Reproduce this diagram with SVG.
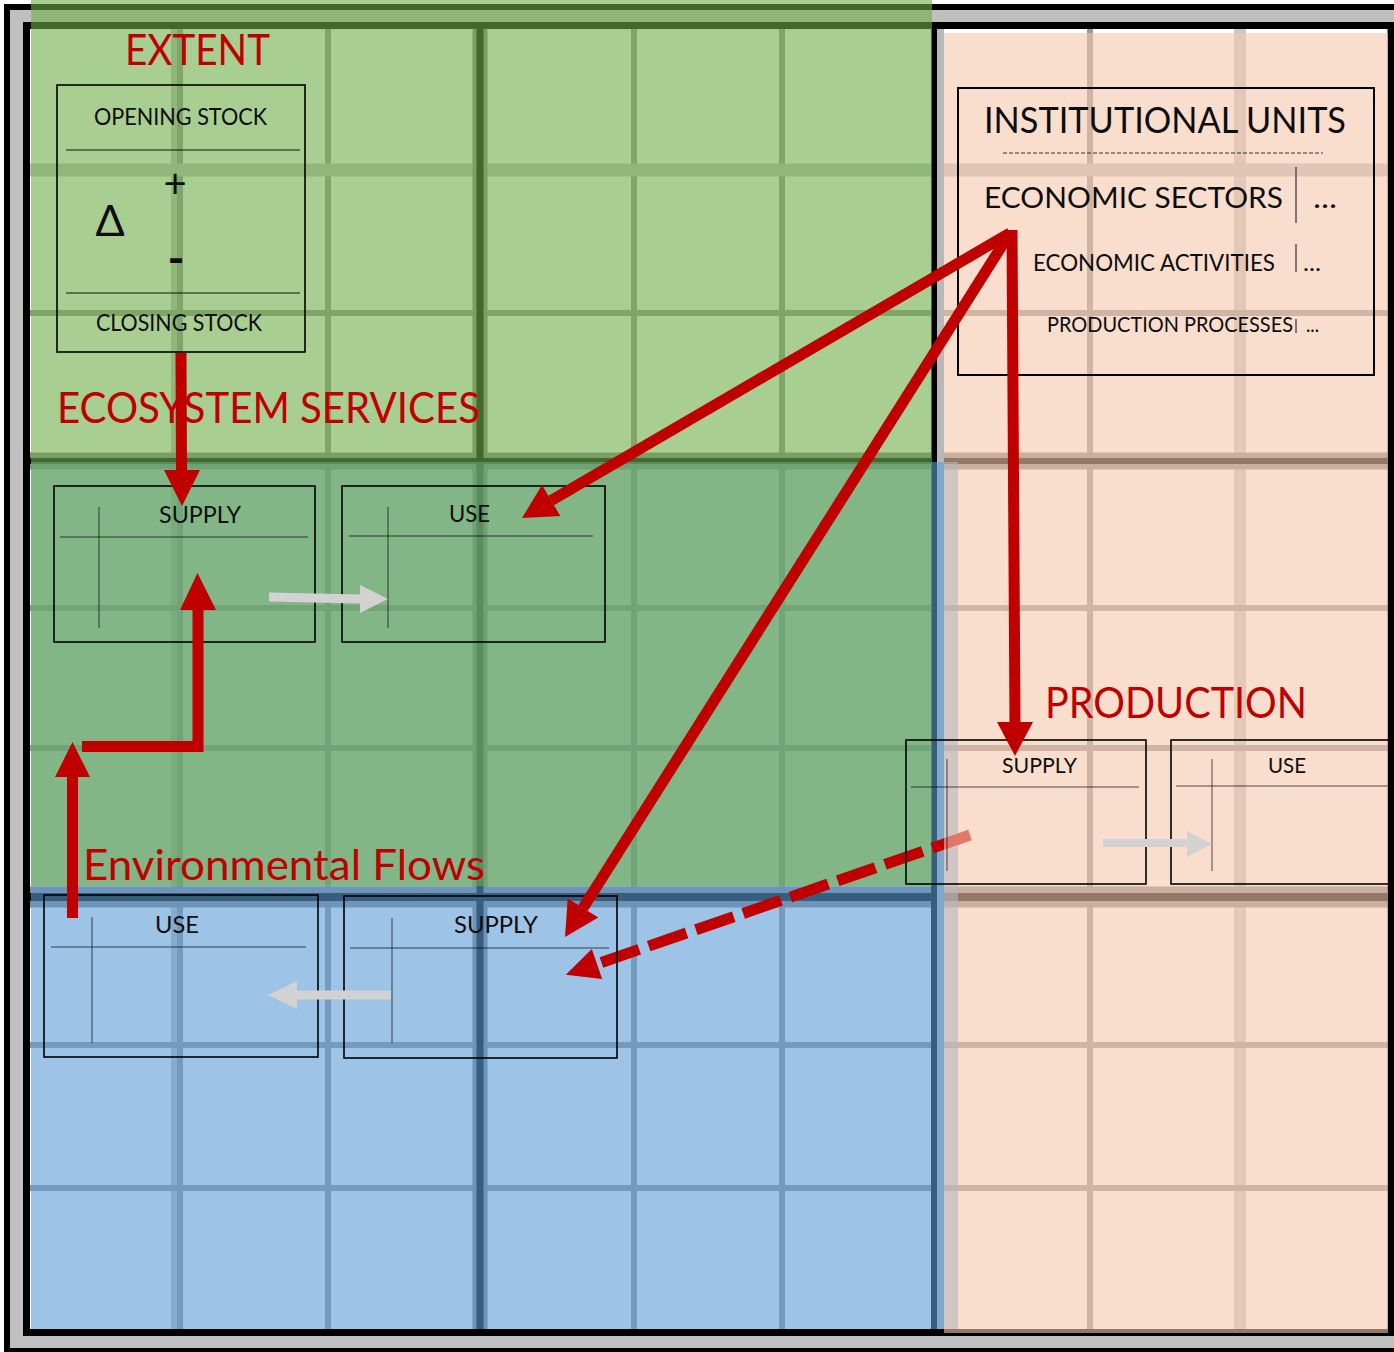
<svg xmlns="http://www.w3.org/2000/svg" width="1394" height="1352" viewBox="0 0 1394 1352">
<defs>
<style>
.lbl{font-family:Lato,"Open Sans","DejaVu Sans",sans-serif;fill:#C00000;font-size:42px}
.txt{font-family:Lato,"Open Sans","DejaVu Sans",sans-serif;fill:#0d0d0d}
.box{fill:none;stroke:#000;stroke-width:1.6}
.inner{stroke:#000;stroke-opacity:.45;stroke-width:1.5;fill:none}
.minor{stroke:#999;stroke-width:6}
.band{stroke:#c4c4c4;stroke-width:12}
.majband{stroke:#8a8a8a;stroke-width:17}
.major{stroke:#000;stroke-width:7}
.red{stroke:#C00000;stroke-width:11;fill:none}
.redfill{fill:#C00000}
.gray{fill:#d2d2d2}
</style>
</defs>
<rect width="1394" height="1352" fill="#fff"/>
<g id="frame-outer">
<rect x="10" y="10" width="1394" height="1338" fill="#c0c0c0"/>
<rect x="7" y="7" width="1400" height="1344" fill="none" stroke="#000" stroke-width="6"/>
<rect x="30" y="29" width="1358" height="1301" fill="#fff"/>
</g>
<g id="grid">
<line class="band" x1="177" y1="26" x2="177" y2="1333"/>
<line class="minor" x1="180" y1="26" x2="180" y2="1333"/>
<line class="minor" x1="328" y1="26" x2="328" y2="1333"/>
<line class="minor" x1="634" y1="26" x2="634" y2="1333"/>
<line class="minor" x1="782" y1="26" x2="782" y2="1333" stroke-width="5"/>
<line class="minor" x1="1090" y1="26" x2="1090" y2="1333"/>
<line class="band" x1="1240" y1="26" x2="1240" y2="1333" style="stroke:#c8c8c8"/>
<line class="band" x1="27" y1="170" x2="1391" y2="170" style="stroke-width:13"/>
<line class="minor" x1="27" y1="313" x2="1391" y2="313"/>
<line class="minor" x1="27" y1="608" x2="1391" y2="608"/>
<line class="minor" x1="27" y1="748" x2="1391" y2="748"/>
<line class="minor" x1="27" y1="1045" x2="1391" y2="1045"/>
<line class="minor" x1="27" y1="1188" x2="1391" y2="1188"/>
<line class="majband" x1="480" y1="26" x2="480" y2="1333" style="stroke-width:15"/>
<line class="majband" x1="27" y1="461" x2="1391" y2="461"/>
<line class="majband" x1="27" y1="897" x2="1391" y2="897" style="stroke-width:21"/>
<line class="major" x1="480" y1="26" x2="480" y2="1333"/>
<line class="major" x1="27" y1="461" x2="1391" y2="461" style="stroke-width:6"/>
<line class="major" x1="27" y1="897" x2="1391" y2="897" style="stroke-width:8"/>
<rect x="937" y="26" width="7" height="1307" fill="#b8b8b8"/>
<line class="major" x1="934" y1="26" x2="934" y2="1333" style="stroke-width:6"/>
</g>
<g id="frame-inner">
<rect x="26.5" y="25.5" width="1364.5" height="1307" fill="none" stroke="#000" stroke-width="7"/>
</g>
<g id="panel-blue"><rect x="31" y="462" width="927" height="867" fill="#5B9BD5" fill-opacity="0.6"/></g>
<g id="panel-green"><rect x="31" y="0" width="901" height="886" fill="#70AD47" fill-opacity="0.6"/></g>
<g id="connector-dashed">
<line class="red" x1="970" y1="835" x2="597" y2="964" stroke-dasharray="40 10"/>
<polygon class="redfill" points="565.8,974.8 602.2,979.1 591.8,948.9"/>
</g>
<g id="panel-beige"><rect x="944" y="33" width="444" height="1300" fill="#F5C8AD" fill-opacity="0.6"/></g>

<g id="extent">
<text class="lbl" x="125" y="65" textLength="145" lengthAdjust="spacingAndGlyphs">EXTENT</text>
<rect class="box" x="57" y="85" width="248" height="267"/>
<line class="inner" x1="66" y1="150" x2="300" y2="150" style="stroke-width:2"/>
<line class="inner" x1="66" y1="293" x2="300" y2="293" style="stroke-width:2"/>
<text class="txt" x="94" y="125" font-size="23" textLength="173" lengthAdjust="spacingAndGlyphs">OPENING STOCK</text>
<text class="txt" x="175" y="198" font-size="40" text-anchor="middle">+</text>
<text class="txt" x="110" y="236" font-size="43" text-anchor="middle">Δ</text>
<text class="txt" x="176" y="275" font-size="46" font-weight="700" text-anchor="middle">-</text>
<text class="txt" x="96" y="331" font-size="23" textLength="166" lengthAdjust="spacingAndGlyphs">CLOSING STOCK</text>
</g>

<g id="ecosystem-services">
<text class="lbl" x="57" y="423" textLength="423" lengthAdjust="spacingAndGlyphs">ECOSYSTEM SERVICES</text>
</g>
<g id="es-supply">
<rect class="box" x="54" y="486" width="261" height="156"/>
<line class="inner" x1="60" y1="537" x2="308" y2="537"/>
<line class="inner" x1="99" y1="507" x2="99" y2="628"/>
<text class="txt" x="159" y="523" font-size="23" textLength="82" lengthAdjust="spacingAndGlyphs">SUPPLY</text>
</g>
<g id="es-use">
<rect class="box" x="342" y="486" width="263" height="156"/>
<line class="inner" x1="349" y1="536" x2="593" y2="536"/>
<line class="inner" x1="388" y1="507" x2="388" y2="628"/>
<text class="txt" x="449" y="522" font-size="23" textLength="41" lengthAdjust="spacingAndGlyphs">USE</text>
</g>

<g id="institutional-units">
<rect class="box" x="958" y="88" width="416" height="287" style="stroke-width:2"/>
<text class="txt" x="984" y="133" font-size="36" textLength="362" lengthAdjust="spacingAndGlyphs">INSTITUTIONAL UNITS</text>
<line x1="1003" y1="153" x2="1323" y2="153" stroke="#333" stroke-width="1" stroke-dasharray="4 2"/>
<text class="txt" x="984" y="208" font-size="29" textLength="299" lengthAdjust="spacingAndGlyphs">ECONOMIC SECTORS</text>
<line x1="1296" y1="167" x2="1296" y2="223" stroke="#555" stroke-width="1.5"/>
<text class="txt" x="1313" y="208" font-size="29" textLength="24" lengthAdjust="spacingAndGlyphs">...</text>
<text class="txt" x="1033" y="271" font-size="23" textLength="242" lengthAdjust="spacingAndGlyphs">ECONOMIC ACTIVITIES</text>
<line x1="1296" y1="244" x2="1296" y2="272" stroke="#555" stroke-width="1.5"/>
<text class="txt" x="1303" y="271" font-size="23" textLength="18" lengthAdjust="spacingAndGlyphs">...</text>
<text class="txt" x="1047" y="332" font-size="21" textLength="246" lengthAdjust="spacingAndGlyphs">PRODUCTION PROCESSES</text>
<line x1="1296" y1="319" x2="1296" y2="333" stroke="#555" stroke-width="1.5"/>
<text class="txt" x="1306" y="332" font-size="21" textLength="13" lengthAdjust="spacingAndGlyphs">...</text>
</g>

<g id="production">
<text class="lbl" x="1045" y="718" textLength="262" lengthAdjust="spacingAndGlyphs">PRODUCTION</text>
</g>
<g id="prod-supply">
<rect class="box" x="906" y="740" width="240" height="144"/>
<line class="inner" x1="911" y1="787" x2="1139" y2="787"/>
<line class="inner" x1="947" y1="759" x2="947" y2="871"/>
<text class="txt" x="1002" y="773" font-size="22" textLength="75" lengthAdjust="spacingAndGlyphs">SUPPLY</text>
</g>
<g id="prod-use">
<rect class="box" x="1171" y="740" width="222" height="144"/>
<line class="inner" x1="1176" y1="786" x2="1388" y2="786"/>
<line class="inner" x1="1212" y1="759" x2="1212" y2="871"/>
<text class="txt" x="1268" y="773" font-size="22" textLength="38" lengthAdjust="spacingAndGlyphs">USE</text>
</g>

<g id="environmental-flows">
<text class="lbl" x="83" y="880" textLength="402" lengthAdjust="spacingAndGlyphs">Environmental Flows</text>
</g>
<g id="ef-use">
<rect class="box" x="44" y="895" width="274" height="162"/>
<line class="inner" x1="51" y1="947" x2="306" y2="947"/>
<line class="inner" x1="92" y1="917" x2="92" y2="1043"/>
<text class="txt" x="155" y="933" font-size="23" textLength="44" lengthAdjust="spacingAndGlyphs">USE</text>
</g>
<g id="ef-supply">
<rect class="box" x="344" y="896" width="273" height="162"/>
<line class="inner" x1="350" y1="948" x2="609" y2="948"/>
<line class="inner" x1="392" y1="918" x2="392" y2="1043"/>
<text class="txt" x="454" y="933" font-size="23" textLength="84" lengthAdjust="spacingAndGlyphs">SUPPLY</text>
</g>

<g id="connectors">
<polygon class="gray" points="269,592.5 360,594.5 360,585 388,599 360,613 360,603.5 269,601.5"/>
<polygon class="gray" points="1103,839 1187,839 1187,831 1212,844 1187,857 1187,847 1103,847"/>
<polygon class="gray" points="391,990.5 297,990.5 297,981 268,995 297,1009 297,999.5 391,999.5"/>
<line class="red" x1="181" y1="353" x2="181.5" y2="472"/>
<polygon class="redfill" points="164,470 200,470 182,506"/>
<line class="red" x1="1010" y1="233" x2="551.2" y2="500.6"/>
<polygon class="redfill" points="522,518 560.4,516.1 542,485.1"/>
<line class="red" x1="1010" y1="233" x2="583" y2="908"/>
<polygon class="redfill" points="565,937 598.3,917.5 567.7,898.5"/>
<line class="red" x1="1012" y1="230" x2="1015" y2="723"/>
<polygon class="redfill" points="997,722 1033,722 1015,756"/>
<line class="red" x1="72.5" y1="918" x2="72.5" y2="776"/>
<polygon class="redfill" points="55,777 90,777 72.5,742"/>
<polyline class="red" points="82,746.5 198,746.5 198,609" stroke-linejoin="miter"/>
<polygon class="redfill" points="180,610 216,610 197.5,573"/>
</g>
</svg>
